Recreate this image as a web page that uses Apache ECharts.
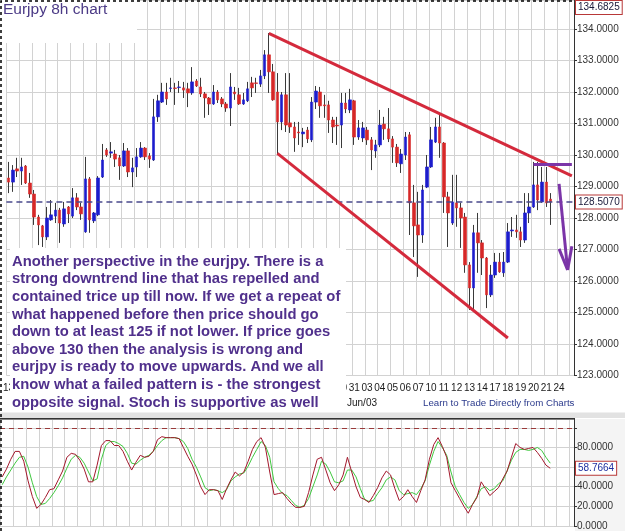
<!DOCTYPE html>
<html>
<head>
<meta charset="utf-8">
<title>Eurjpy 8h chart</title>
<script src="https://cdn.jsdelivr.net/npm/echarts@6/dist/echarts.min.js"></script>
<style>
  html, body { margin: 0; padding: 0; background: #fff; }
  #chart { width: 625px; height: 531px; }
</style>
</head>
<body>
<div id="chart"></div>
<script>
// one label per trading day, a day = 3 slots of 8h
var dayLabels = ['13','25','26','29','30','01','02','03','06','07','08','09','10','13','14','15','16','17','20','21',
  '22','23','24','27','28','29','30','31','03','04','05','06','07','10','11','12','13','14','17','18','19','20','21','24'];

var opens = [129.27,129.14,129.56,129.49,129.65,129.11,128.76,128.03,127.75,127.40,
  127.94,128.06,128.25,127.81,128.35,128.06,128.64,128.35,127.56,129.24,
  127.91,128.10,129.30,130.16,130.06,130.03,129.91,129.65,130.13,129.46,
  129.62,129.94,130.22,129.97,129.84,131.21,131.68,132.00,132.11,132.13,
  132.14,132.13,132.10,131.97,132.35,132.16,131.94,131.81,131.62,132.00,
  131.78,131.62,131.49,132.00,131.91,131.62,131.72,132.29,132.29,132.25,
  132.51,133.18,132.64,132.00,131.05,131.91,131.02,130.89,130.73,130.67,
  130.79,130.48,131.68,132.00,131.59,131.59,131.11,130.95,130.95,131.65,
  131.43,131.72,130.57,130.54,130.79,130.48,130.13,130.32,130.98,130.83,
  130.51,130.25,129.72,130.00,130.64,128.48,127.78,127.46,128.98,129.62,
  130.41,130.89,130.38,128.67,127.84,128.48,128.32,128.03,126.51,125.78,
  127.53,127.21,126.73,125.56,126.19,126.60,126.26,126.60,127.59,127.62,
  127.56,127.30,128.16,128.35,129.05,128.51,129.14,128.60];

var closes = [129.14,129.52,129.49,129.62,129.11,128.76,128.03,127.78,127.40,128.00,
  128.10,128.25,127.84,128.29,128.13,128.64,128.35,128.13,129.24,127.94,
  128.16,129.27,129.84,130.00,130.10,129.87,129.65,130.13,129.46,129.59,
  129.94,130.22,129.94,129.87,131.21,131.72,132.00,131.78,132.13,132.11,
  132.16,132.06,131.97,132.32,132.19,131.94,131.81,131.62,132.00,131.75,
  131.62,131.49,132.16,131.94,131.62,131.75,132.10,132.13,132.27,132.51,
  133.18,132.64,131.75,131.05,131.91,130.95,130.89,130.54,130.70,130.73,
  130.51,131.68,132.03,131.56,131.56,131.11,130.89,130.92,131.65,131.46,
  131.75,130.57,130.86,130.86,130.48,130.16,130.32,130.95,130.83,130.51,
  130.25,129.75,130.03,130.57,128.48,127.75,127.46,128.89,129.62,130.48,
  130.89,130.38,128.67,128.16,128.51,128.32,128.00,126.51,125.78,127.53,
  127.21,126.73,125.56,126.19,126.60,126.29,126.60,127.56,127.62,127.56,
  127.30,128.16,128.35,129.05,128.57,129.14,128.48,128.51];

var lows = [128.79,128.83,129.30,129.05,129.08,128.64,127.78,127.14,127.08,127.30,
  127.91,127.84,127.21,127.72,127.84,128.00,128.25,127.94,127.53,127.53,
  127.84,128.06,129.27,129.94,129.91,129.62,129.21,129.62,129.30,128.98,
  129.30,129.91,129.84,129.59,129.81,131.05,131.65,131.59,132.00,131.59,
  131.97,131.81,131.52,131.91,132.16,131.84,131.18,131.27,131.59,131.65,
  131.52,131.37,130.92,131.75,131.59,131.59,131.68,131.84,131.97,132.16,
  132.41,131.97,131.72,130.03,130.79,130.73,130.70,130.10,130.32,130.25,
  130.38,130.41,131.46,131.18,131.18,130.70,130.38,130.32,130.22,131.33,
  131.33,130.32,130.48,130.41,130.32,129.52,129.91,130.25,130.48,130.41,
  129.75,129.62,129.43,129.84,127.46,126.76,126.13,127.21,128.95,129.59,
  130.38,129.91,128.16,127.08,127.78,127.72,127.05,126.26,125.08,125.08,
  126.26,126.19,125.14,125.49,126.10,126.26,126.13,126.57,127.40,127.37,
  127.08,127.21,127.84,128.32,128.25,128.48,128.35,127.78];

var highs = [129.78,129.68,129.91,129.91,129.68,129.43,128.89,128.10,127.78,128.35,
  128.57,128.48,128.32,128.51,128.38,128.95,128.79,128.48,129.94,129.30,
  128.19,129.33,130.35,130.22,130.41,130.16,130.00,130.38,130.22,129.91,
  130.22,130.41,130.25,130.06,131.78,131.91,132.29,132.29,132.45,132.29,
  132.35,132.32,132.29,132.79,132.41,132.45,132.00,131.84,132.22,132.06,
  131.84,131.68,132.60,132.16,132.13,131.97,132.32,132.48,132.45,132.70,
  133.33,133.87,132.89,132.60,132.00,132.60,132.60,131.05,131.05,130.86,
  130.89,131.84,132.19,132.16,131.91,131.72,131.21,131.21,131.97,131.97,
  132.10,131.75,131.11,131.05,130.89,130.57,130.48,131.43,131.21,131.49,
  130.60,130.35,130.19,130.73,130.73,129.05,128.83,129.05,130.00,130.89,
  131.18,131.33,130.41,128.83,129.37,129.37,128.48,128.16,126.60,127.78,
  128.16,127.30,126.76,126.51,126.89,126.89,126.92,127.84,128.03,128.10,
  127.72,128.79,128.79,129.78,129.78,129.62,129.62,128.79];

var stochK = [50,58,68,76,76,66,46,30,18,22,29,37,38,47,56,70,74,73,67,58,
  45,45,62,82,87,87,82,82,76,66,57,65,72,70,71,76,88,91,90,90,
  90,89,80,71,63,52,40,32,37,37,36,27,38,47,55,51,55,66,78,86,
  90,80,55,32,33,34,28,23,19,19,20,34,52,68,70,57,44,36,42,52,
  70,55,40,29,27,24,31,39,49,56,52,38,26,30,37,30,24,36,47,68,
  83,90,81,70,44,36,28,20,13,22,29,45,38,31,35,39,48,56,70,84,
  80,78,79,80,75,69,62,58.7664];

var stochD = [42,50,57,64,70,71,60,44,30,22,23,28,34,41,49,59,68,72,70,64,
  55,46,48,68,82,86,86,84,81,74,64,63,67,70,72,76,82,87,90,90,
  90,89,86,79,68,60,50,39,36,37,36,34,37,46,50,53,54,61,70,78,
  86,82,70,45,38,33,31,26,21,19,21,28,40,52,66,63,55,45,44,46,
  57,57,50,38,27,25,26,33,39,47,50,47,36,32,33,34,32,38,46,62,
  76,86,80,72,55,40,32,24,18,22,30,38,40,36,38,43,46,56,67,75,
  78,78,77,78,80,77,70,64];

var slotCount = 133;
var lastPrice = 128.507;
var topPrice = 134.6825;
var lastStoch = 58.7664;

// hand drawn lines, [slot, price]; slots must stay inside 0..132
var trendUpper = [[61.4, 133.86], [132, 129.34]];
var trendLower = [[62.97, 130.05], [117.47, 124.19]];
var resistLine = [[123.25, 129.715], [132, 129.715]];
var arrowShaft = [[129.1, 129.08], [131.4, 126.35]];
var arrowLeft = [[129.4, 127.02], [131.4, 126.35]];
var arrowRight = [[132, 127.1], [131.4, 126.35]];

var noteLines = [
  'Another perspective in the eurjpy. There is a',
  'strong downtrend line that has repelled and',
  'contained trice up till now. If we get a repeat of',
  'what happened before then price should go',
  'down to at least 125 if not lower. If price goes',
  'above 130 then the analysis is wrong and',
  'eurjpy is ready to move upwards. And we all',
  'know what a failed pattern is - the strongest',
  'opposite signal. Stoch is supportive as well'
];

var categories = [];
for (var i = 0; i < slotCount; i++) categories.push(String(i));

var wickData = [], bodyData = [];
for (var i = 0; i < opens.length; i++) {
  wickData.push([opens[i], closes[i], lows[i], highs[i]]);
  bodyData.push([opens[i], closes[i], Math.min(opens[i], closes[i]), Math.max(opens[i], closes[i])]);
}

var FONT = 'Liberation Sans';
var gridColor = '#d2d2d2';
var hidden = 'rgba(0,0,0,0)';

function boxLabel(text, color) {
  return {
    show: true, position: 'end', distance: 2, formatter: text,
    color: color, fontSize: 10, fontFamily: FONT, lineHeight: 11,
    backgroundColor: '#fff', borderColor: '#b83838', borderWidth: 1, padding: [1, 2]
  };
}
function seg(pts, color, width) {
  return [
    { coord: pts[0], lineStyle: { color: color, width: width, type: 'solid' }, label: { show: false } },
    { coord: pts[1] }
  ];
}

var chart = echarts.init(document.getElementById('chart'));
chart.setOption({
  animation: false,
  backgroundColor: '#fff',
  textStyle: { fontFamily: FONT },
  grid: [
    { left: -1.2, top: 0, width: 575.2, height: 375.5 },
    { left: -1.2, top: 419, width: 575.2, bottom: 1.4 }
  ],
  xAxis: [
    {
      type: 'category', gridIndex: 0, data: categories, boundaryGap: true,
      axisLine: { show: false }, axisTick: { show: false },
      axisLabel: {
        interval: 2, margin: 8, fontSize: 10, color: '#1a1a1a',
        formatter: function (v, idx) { return idx % 3 === 0 ? (dayLabels[idx / 3] || '') : ''; }
      },
      splitLine: { show: true, interval: 2, lineStyle: { color: gridColor, width: 1 } }
    },
    {
      type: 'category', gridIndex: 1, data: categories, boundaryGap: true,
      axisLine: { show: false }, axisTick: { show: false }, axisLabel: { show: false },
      splitLine: { show: true, interval: 2, lineStyle: { color: gridColor, width: 1 } }
    }
  ],
  yAxis: [
    {
      type: 'value', gridIndex: 0, position: 'right', min: 123, max: 134.92, interval: 1,
      axisLine: { show: true, lineStyle: { color: '#333' } },
      axisTick: { show: true, length: 3, lineStyle: { color: '#333' } },
      axisLabel: {
        margin: 3, fontSize: 10, color: '#333', showMaxLabel: false,
        formatter: function (v) { return v.toFixed(4); }
      },
      splitLine: { show: true, lineStyle: { color: gridColor } }
    },
    {
      type: 'value', gridIndex: 1, position: 'right', min: 0, max: 109, interval: 20,
      axisLine: { show: true, lineStyle: { color: '#333' } },
      axisTick: { show: true, length: 3, lineStyle: { color: '#333' } },
      axisLabel: {
        margin: 3, fontSize: 10, color: '#333', showMaxLabel: false,
        formatter: function (v) { return (v === 0 || v === 20 || v === 40 || v === 80) ? v.toFixed(4) : ''; }
      },
      splitLine: { show: true, lineStyle: { color: gridColor } }
    }
  ],
  series: [
    {
      name: 'wick', type: 'candlestick', xAxisIndex: 0, yAxisIndex: 0,
      data: wickData, barWidth: 1, clip: false,
      itemStyle: { color: '#3a3a3a', color0: '#3a3a3a', borderColor: '#3a3a3a', borderColor0: '#3a3a3a', borderWidth: 1 }
    },
    {
      name: 'EURJPY', type: 'candlestick', xAxisIndex: 0, yAxisIndex: 0,
      data: bodyData, barWidth: 3, clip: false,
      itemStyle: { color: '#1c1ccc', color0: '#d62828', borderColor: '#1c1ccc', borderColor0: '#d62828', borderWidth: 0.6 },
      markLine: {
        silent: true, symbol: 'none', animation: false,
        data: [
          { yAxis: lastPrice, lineStyle: { color: '#4a4a8c', type: [6, 4], width: 1.5 }, label: boxLabel('128.5070', '#1a1a3a') },
          { yAxis: topPrice, lineStyle: { color: hidden, width: 0 }, label: boxLabel('134.6825', '#1a1a3a') },
          seg(trendUpper, '#d42a3c', 3),
          seg(trendLower, '#d42a3c', 3),
          seg(resistLine, '#7b35a8', 3),
          seg(arrowShaft, '#7b35a8', 3),
          seg(arrowLeft, '#7b35a8', 3),
          seg(arrowRight, '#7b35a8', 3)
        ]
      }
    },
    {
      name: '%D', type: 'line', xAxisIndex: 1, yAxisIndex: 1, data: stochD,
      showSymbol: false, lineStyle: { color: '#3fc83f', width: 1 }
    },
    {
      name: '%K', type: 'line', xAxisIndex: 1, yAxisIndex: 1, data: stochK,
      showSymbol: false, lineStyle: { color: '#a3182c', width: 1 },
      markLine: {
        silent: true, symbol: 'none', animation: false,
        data: [
          { yAxis: 100, lineStyle: { color: '#9a3a3a', type: [5, 4], width: 1 }, label: { show: false } },
          { yAxis: lastStoch, lineStyle: { color: hidden, width: 0 }, label: boxLabel('58.7664', '#1f2fa0') }
        ]
      }
    }
  ],
  graphic: [
    { type: 'rect', z: -1, shape: { x: 575, y: 419, width: 50, height: 112 }, style: { fill: '#f4f4f4' } },
    { type: 'rect', z: 10, shape: { x: 0, y: 0, width: 137, height: 43 }, style: { fill: '#fff' } },
    { type: 'text', z: 11, x: 3, y: 2, style: { text: 'Eurjpy 8h chart', font: '15.5px Liberation Sans', fill: '#4b3a86' } },
    { type: 'rect', z: 10, shape: { x: 10, y: 248, width: 336, height: 165 }, style: { fill: '#fff' } },
    { type: 'text', z: 11, x: 12, y: 253, style: { text: noteLines.join('\n'), font: 'bold 14.8px Liberation Sans', lineHeight: 17.6, fill: '#50308c' } },
    { type: 'text', z: 11, x: 347, y: 398, style: { text: 'Jun/03', font: '10px Liberation Sans', fill: '#1a1a1a' } },
    { type: 'text', z: 11, x: 423, y: 398, style: { text: 'Learn to Trade Directly from Charts', font: '9.7px Liberation Sans', fill: '#2b3a8c' } },
    { type: 'rect', z: 11, shape: { x: 0, y: 412.5, width: 625, height: 5.5 }, style: { fill: '#e2e2e2' } },
    { type: 'line', z: 11, shape: { x1: 0, y1: 418.8, x2: 575, y2: 418.8 }, style: { stroke: '#333', lineWidth: 1.5 } },
    { type: 'polyline', z: 12, shape: { points: [[1, 531], [1, 1], [575, 1]] }, style: { stroke: '#000', lineWidth: 1.5, lineDash: [3, 3], fill: null } }
  ]
});
</script>
</body>
</html>
